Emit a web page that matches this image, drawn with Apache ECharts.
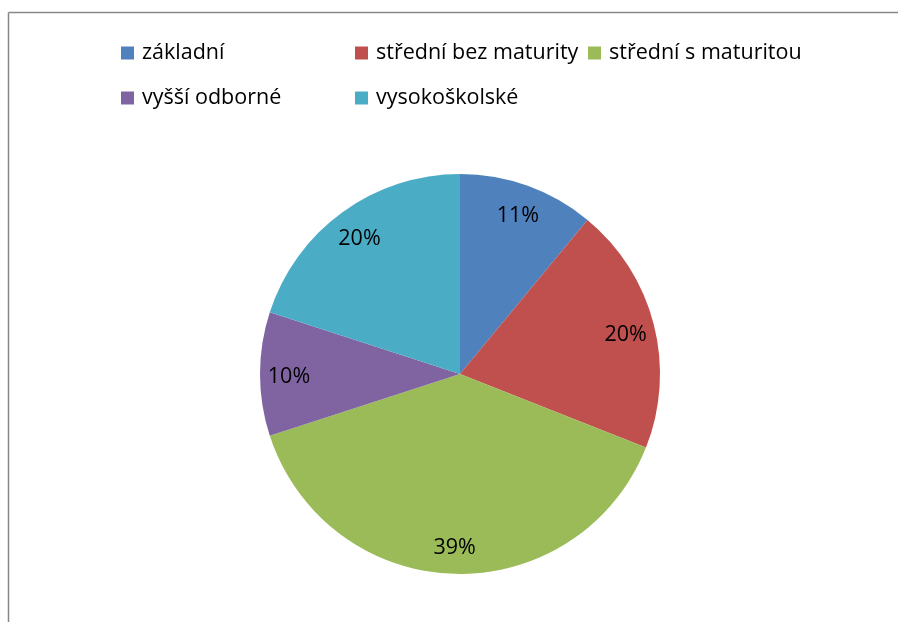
<!DOCTYPE html>
<html>
<head>
<meta charset="utf-8">
<script src="https://cdn.jsdelivr.net/npm/echarts@6/dist/echarts.min.js"></script>
<style>html,body{margin:0;padding:0;background:#fff}#c{width:898px;height:622px}</style>
</head>
<body>
<div id="c"></div>
<script>
const categories = ['základní', 'střední bez maturity', 'střední s maturitou', 'vyšší odborné', 'vysokoškolské'];
const values = [11, 20, 39, 10, 20];
const colors = ['#4F81BD', '#C0504D', '#9BBB59', '#8064A2', '#4BACC6'];

const FONT = '"Open Sans", sans-serif';
const data = categories.map((n, i) => ({ name: n, value: values[i], itemStyle: { color: colors[i] } }));
const labelData = categories.map((n, i) => ({ name: n, value: values[i] }));

// legend grid slots (column x, row y)
const legendCols = [116, 350, 583];
const legendRows = [37, 82];
const legends = categories.map((n, i) => ({
  orient: 'horizontal',
  left: legendCols[i % 3],
  top: legendRows[Math.floor(i / 3)],
  itemWidth: 13,
  itemHeight: 13,
  itemGap: 0,
  icon: 'rect',
  selectedMode: false,
  data: [n],
  textStyle: { fontFamily: FONT, fontSize: 21.5, color: '#000', padding: [0, 0, 0, 3] }
}));

const chart = echarts.init(document.getElementById('c'), null, { renderer: 'canvas' });
chart.setOption({
  backgroundColor: '#fff',
  animation: false,
  graphic: [
    { type: 'line', shape: { x1: 8.5, y1: 12.5, x2: 898, y2: 12.5 }, style: { stroke: '#878787', lineWidth: 1.5 }, silent: true },
    { type: 'line', shape: { x1: 8.5, y1: 12.5, x2: 8.5, y2: 622 }, style: { stroke: '#878787', lineWidth: 1.5 }, silent: true }
  ],
  legend: legends,
  series: [
    {
      type: 'pie',
      center: [460, 374],
      radius: [0, 200],
      startAngle: 90,
      clockwise: true,
      label: { show: false },
      labelLine: { show: false },
      emphasis: { disabled: true },
      data: data
    },
    {
      type: 'pie',
      center: [460, 374],
      radius: [136, 200],
      startAngle: 90,
      clockwise: true,
      silent: true,
      percentPrecision: 0,
      legendHoverLink: false,
      itemStyle: { color: 'rgba(0,0,0,0)' },
      label: {
        show: true,
        position: 'inside',
        formatter: '{d}%',
        fontFamily: FONT,
        fontSize: 21.5,
        color: '#000',
        offset: [0, 3]
      },
      labelLine: { show: false },
      emphasis: { disabled: true },
      data: labelData
    }
  ]
});
</script>
</body>
</html>
